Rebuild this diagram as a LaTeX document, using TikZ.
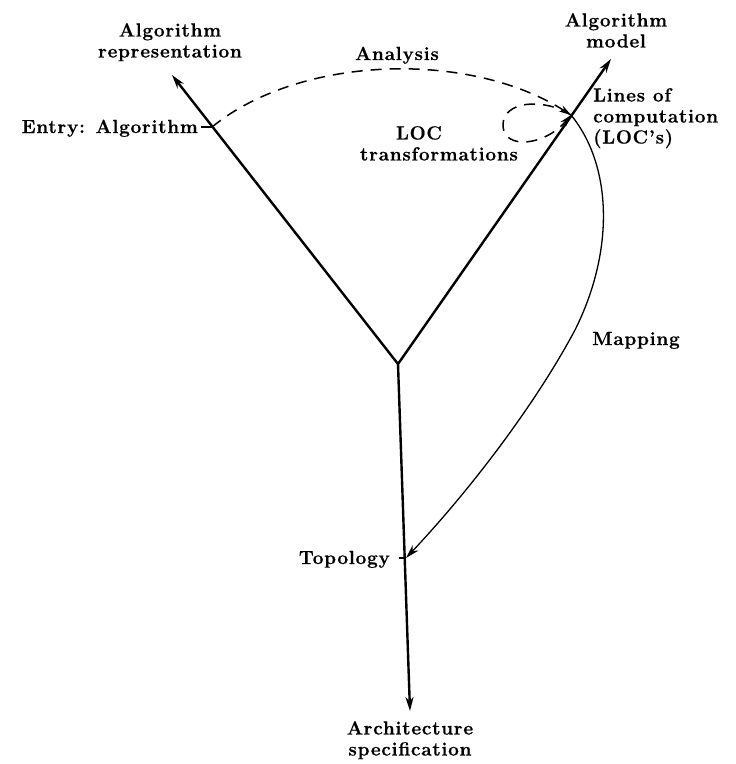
\documentclass[tikz,border=0pt]{standalone}
\usepackage{fontspec}
\setmainfont{Latin Modern Roman}[LetterSpace=4, BoldFeatures={FakeBold=0.6}]
\usetikzlibrary{arrows.meta}
\begin{document}
\begin{tikzpicture}[x=1pt,y=-1pt,
  lbl/.style={font=\fontsize{19}{21}\selectfont\bfseries, inner sep=0pt},
  axisline/.style={line width=2.4pt, -{Stealth[length=14pt,width=8pt]}},
  dashline/.style={line width=1.5pt, dash pattern=on 11pt off 8pt, -{Stealth[length=12pt,width=7pt]}},
  mapline/.style={line width=1.3pt, -{Stealth[length=14pt,width=8pt]}},
  tick/.style={line width=1.5pt}]
\useasboundingbox (0,0) rectangle (736,764);
% key points
\coordinate (J) at (398,364);
\coordinate (LT) at (172,75);
\coordinate (RT) at (611,59);
\coordinate (DT) at (410,711);
\coordinate (E) at (212,127);
\coordinate (C) at (571,115);
\coordinate (T) at (406,558);
\coordinate (LOCw) at (503,126);
\coordinate (MapMid) at (575,330);
% axes
\draw[axisline] (J) -- (LT);
\draw[axisline] (J) -- (RT);
\draw[axisline] (J) -- (DT);
% ticks
\draw[tick] (201,127) -- (E);
\draw[tick] (399,558) -- (T);
% analysis
\draw[dashline] (E) .. controls (300,55) and (470,50) .. (C);
% LOC transformations loop
\draw[dashline] (C) .. controls (545,98) and (502,100) .. (LOCw) .. controls (504,150) and (545,146) .. (C);
% mapping
\draw[mapline] (C) .. controls (612,165) and (615,250) .. (MapMid) .. controls (535,405) and (470,490) .. (T);
% labels
\node[lbl, align=center, anchor=north] (algrep) at (170,23) {Algorithm\\representation};
\node[lbl, align=center, anchor=north] (algmod) at (616,13) {Algorithm\\model};
\node[lbl, anchor=base east] (entry) at (198,133) {Entry: Algorithm};
\node[lbl, anchor=base] (analysis) at (397,60) {Analysis};
\node[lbl, align=center, anchor=north] (loct) at (439,126) {LOC\hspace*{40pt}\\transformations};
\node[lbl, align=left, anchor=north west] (lines) at (593,88) {Lines of\\computation\\(LOC's)};
\node[lbl, anchor=base] (mapping) at (636,345) {Mapping};
\node[lbl, anchor=base east] (topology) at (390,564) {Topology};
\node[lbl, align=center, anchor=north] (arch) at (410,721) {Architecture\\specification};
\end{tikzpicture}
\end{document}
